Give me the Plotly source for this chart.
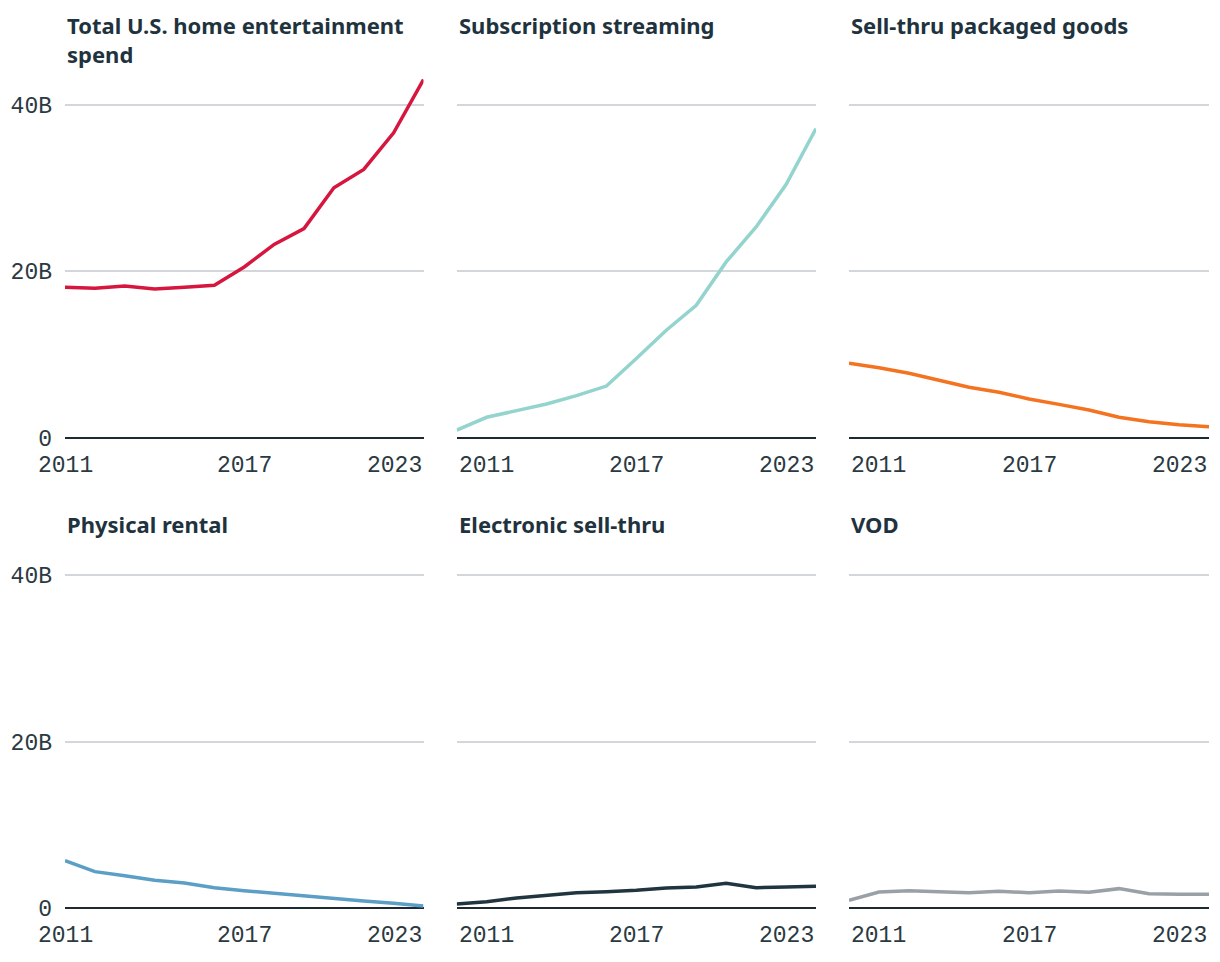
import plotly.graph_objects as go

years = list(range(2011, 2024))

titles = [
    "Total U.S. home entertainment<br>spend",
    "Subscription streaming",
    "Sell-thru packaged goods",
    "Physical rental",
    "Electronic sell-thru",
    "VOD",
]

total_spend = [18.05, 17.95, 18.2, 17.85, 18.05, 18.3, 20.5, 23.2, 25.1, 30.0, 32.2, 36.6, 43.0]
subscription_streaming = [0.92, 2.45, 3.25, 4.05, 5.05, 6.2, 9.5, 12.9, 15.9, 21.1, 25.3, 30.4, 37.1]
sell_thru_packaged = [8.93, 8.4, 7.73, 6.85, 6.05, 5.45, 4.65, 4.0, 3.33, 2.45, 1.92, 1.56, 1.32]
physical_rental = [5.72, 4.4, 3.92, 3.36, 3.04, 2.48, 2.12, 1.8, 1.48, 1.12, 0.88, 0.6, 0.28]
electronic_sell_thru = [0.52, 0.8, 1.24, 1.6, 1.88, 2.0, 2.16, 2.44, 2.56, 3.0, 2.48, 2.56, 2.64]
vod = [0.96, 1.96, 2.12, 1.96, 1.88, 2.04, 1.88, 2.08, 1.92, 2.36, 1.76, 1.68, 1.68]

series = [total_spend, subscription_streaming, sell_thru_packaged,
          physical_rental, electronic_sell_thru, vod]
colors = ["#d6163f", "#94d4ce", "#f47321", "#5b9ec6", "#213540", "#9aa1a6"]

y_tickvals = [0, 20, 40]
y_ticktext = ["0", "20B", "40B"]
x_labels = [2011, 2017, 2023]

# page has an 8px body margin; figure sized to fit the viewport exactly
OFF = 8
W, H = 1220 - 2 * OFF, 962 - 2 * OFF


def fx(px):
    return (px - OFF) / W


def fy(py):
    return 1 - (py - OFF) / H


x_domains = [(fx(65), fx(423.5)), (fx(456.7), fx(816)), (fx(849), fx(1209))]
y_top = 44
row_zero_px = [437.7, 908.3]
px_per_unit = 8.33
y_domains = []
for z in row_zero_px:
    top_px = z - y_top * px_per_unit
    y_domains.append((fy(z), fy(top_px)))

title_top_px = [8, 506.5]

mono = "Liberation Mono"
sans = "Noto Sans"
tick_color = "#2b3a42"
title_color = "#1f333e"

fig = go.Figure()
annotations = []
for i in range(6):
    r, c = divmod(i, 3)
    n = i + 1
    xa = "xaxis" if n == 1 else f"xaxis{n}"
    ya = "yaxis" if n == 1 else f"yaxis{n}"
    xref = "x" if n == 1 else f"x{n}"
    yref = "y" if n == 1 else f"y{n}"
    fig.add_trace(go.Scatter(
        x=years, y=series[i], mode="lines",
        line=dict(color=colors[i], width=3.5),
        xaxis=xref, yaxis=yref, showlegend=False, hoverinfo="x+y",
    ))
    fig.layout[xa] = dict(
        domain=list(x_domains[c]), range=[2011, 2023], anchor=yref,
        showgrid=False, zeroline=False, showticklabels=False, ticks="",
        showline=False, fixedrange=True, automargin=False,
    )
    fig.layout[ya] = dict(
        domain=list(y_domains[r]), range=[0, y_top], anchor=xref,
        tickvals=y_tickvals, ticktext=y_ticktext,
        showticklabels=(c == 0), ticks="",
        ticklabelstandoff=12, automargin=False,
        tickfont=dict(family=mono, size=23, color=tick_color),
        showgrid=True, gridcolor="#d3d7db", gridwidth=1.5,
        zeroline=True, zerolinecolor="#1e2a30", zerolinewidth=2,
        showline=False, fixedrange=True,
    )
    annotations.append(dict(
        text=f"<b>{titles[i]}</b>", xref="paper", yref="paper",
        x=x_domains[c][0], y=fy(title_top_px[r]),
        xanchor="left", yanchor="top", showarrow=False, align="left",
        font=dict(family=sans, size=22, color=title_color),
    ))
    for j, xv in enumerate(x_labels):
        if j == 0:
            anchor = "center" if c == 0 else "left"
        elif j == len(x_labels) - 1:
            anchor = "right"
        else:
            anchor = "center"
        annotations.append(dict(
            text=str(xv), xref=xref, yref=yref, x=xv, y=0,
            xanchor=anchor, yanchor="top", yshift=-13, showarrow=False,
            font=dict(family=mono, size=23, color=tick_color),
        ))

fig.update_layout(
    width=W, height=H,
    margin=dict(l=0, r=0, t=0, b=0, pad=0, autoexpand=False),
    paper_bgcolor="white", plot_bgcolor="white",
    annotations=annotations,
)

fig.write_html("out.html")
